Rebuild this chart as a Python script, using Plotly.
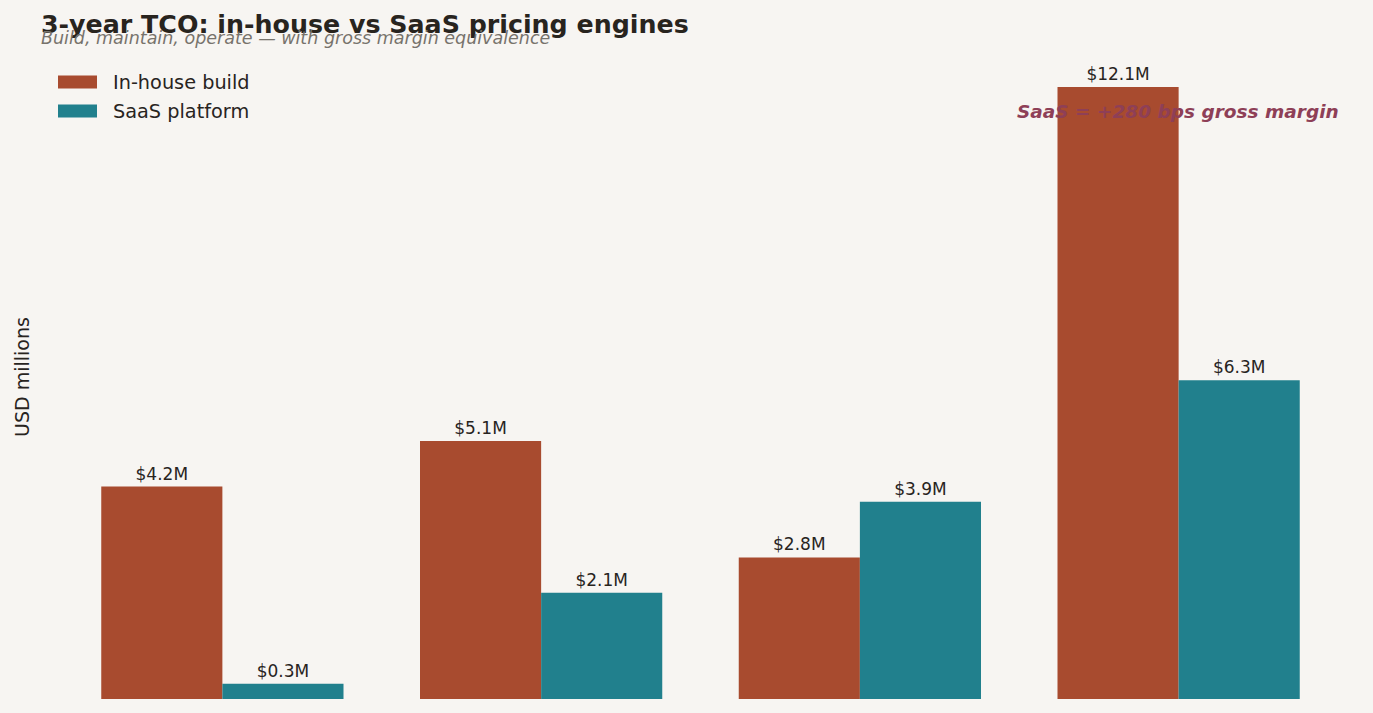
import plotly.graph_objects as go

categories = ["Year 1", "Year 2", "Year 3", "3-year total"]
inhouse = [4.2, 5.1, 2.8, 12.1]
saas = [0.3, 2.1, 3.9, 6.3]
series_names = ["In-house build", "SaaS platform"]
series_colors = ["#A84B2F", "#21808D"]

BG = "#F7F5F2"
TXT = "#28241E"
W, H = 1373, 713
ML, MR, MT, MB = 63, 35, 60, 14
PW, PH = W - ML - MR, H - MT - MB

def px(x):
    return (x - ML) / PW

def py(y):
    return (H - MB - y) / PH

fig = go.Figure()
for name, vals, col in zip(series_names, [inhouse, saas], series_colors):
    fig.add_trace(go.Bar(
        x=categories, y=vals, name=name,
        marker=dict(color=col, line=dict(width=0)),
        text=[f"${v:.1f}M" for v in vals], textposition="outside",
        textfont=dict(family="DejaVu Sans", size=17, color=TXT),
        cliponaxis=False, showlegend=False,
    ))

fig.update_layout(
    width=W, height=H,
    paper_bgcolor=BG, plot_bgcolor=BG,
    margin=dict(l=ML, r=MR, t=MT, b=MB),
    barmode="group", bargap=0.24, bargroupgap=0,
    font=dict(family="DejaVu Sans", color=TXT, size=16),
    xaxis=dict(showticklabels=False, showgrid=False, zeroline=False, showline=False, ticks=""),
    yaxis=dict(range=[0, PH / 50.58], showticklabels=False, showgrid=False,
               zeroline=False, showline=False, ticks=""),
)

# Title and subtitle
fig.add_annotation(text="<b>3-year TCO: in-house vs SaaS pricing engines</b>",
                   xref="paper", yref="paper", x=px(39), y=py(24), xanchor="left", yanchor="middle",
                   showarrow=False, font=dict(family="DejaVu Sans", size=25.3, color=TXT))
fig.add_annotation(text="<i>Build, maintain, operate — with gross margin equivalence</i>",
                   xref="paper", yref="paper", x=px(39), y=py(38), xanchor="left", yanchor="middle",
                   showarrow=False, font=dict(family="DejaVu Sans", size=17.5, color="#77736C"))

# Y axis title
fig.add_annotation(text="USD millions", textangle=-90,
                   xref="paper", yref="paper", x=px(22), y=py(377), xanchor="center", yanchor="middle",
                   showarrow=False, font=dict(family="DejaVu Sans", size=19, color=TXT))

# Legend (manual, wide swatches)
for i, (name, col) in enumerate(zip(series_names, series_colors)):
    yc = 82 + 29 * i
    fig.add_shape(type="rect", xref="paper", yref="paper",
                  x0=px(58), x1=px(97), y0=py(yc - 6.5), y1=py(yc + 6.5),
                  fillcolor=col, line=dict(width=0))
    fig.add_annotation(text=name, xref="paper", yref="paper", x=px(111), y=py(yc),
                       xanchor="left", yanchor="middle", showarrow=False,
                       font=dict(family="DejaVu Sans", size=19.3, color=TXT))

fig.add_annotation(
    text="<b><i>SaaS = +280 bps gross margin</i></b>",
    xref="paper", yref="paper", x=px(1341), y=py(111), xanchor="right", yanchor="middle",
    showarrow=False, font=dict(family="DejaVu Sans", size=18.5, color="#8E3F57"),
)

fig.write_html("out.html")
